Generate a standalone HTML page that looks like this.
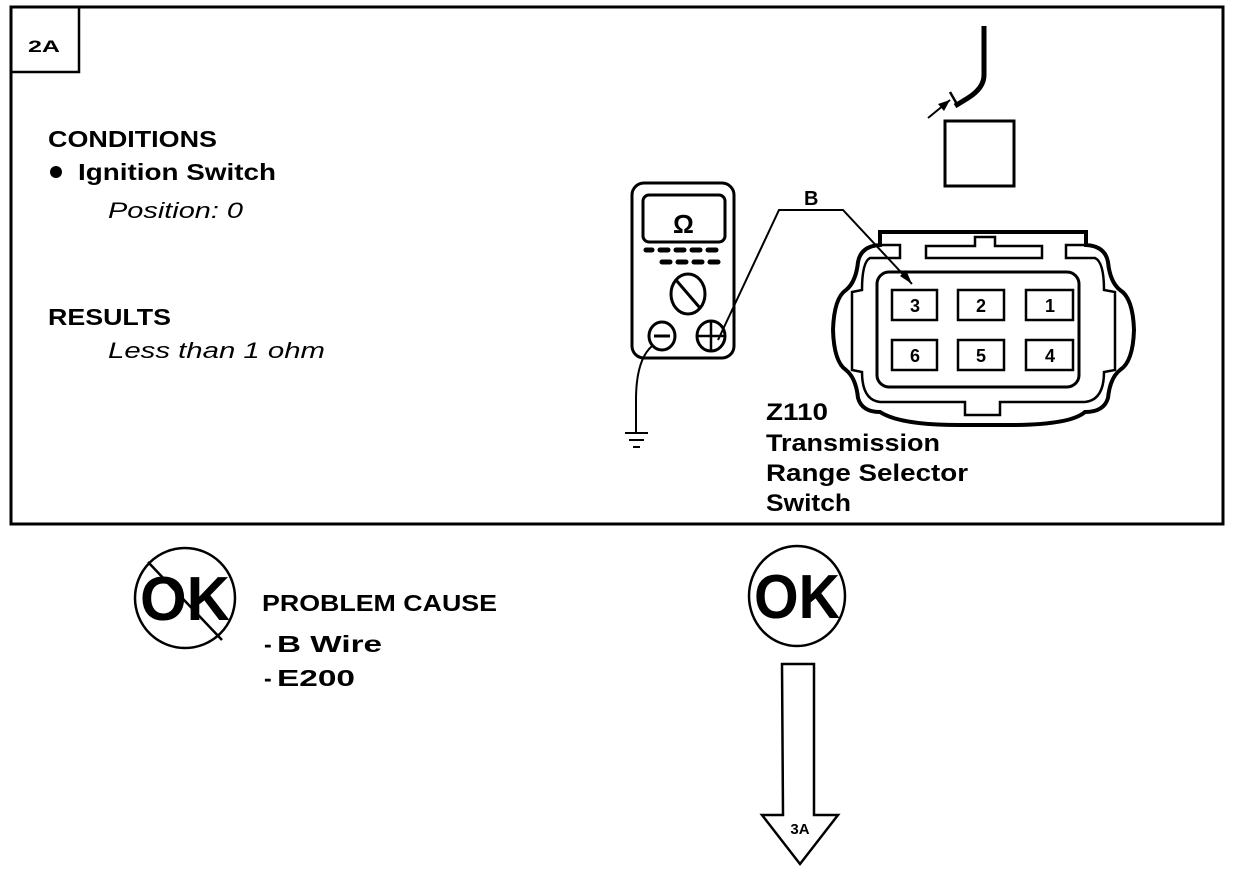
<!DOCTYPE html>
<html><head><meta charset="utf-8"><style>
html,body{margin:0;padding:0;background:#fff;width:1248px;height:874px;overflow:hidden}
svg{display:block}
text{font-family:"Liberation Sans",sans-serif;fill:#000}
.b{font-weight:bold}
.i{font-style:italic}
</style></head><body>
<svg width="1248" height="874" viewBox="0 0 1248 874" xmlns="http://www.w3.org/2000/svg">
<g fill="none" stroke="#000">
<rect x="11" y="7" width="1212" height="517" stroke-width="3"/>
<rect x="11" y="7" width="68" height="65" stroke-width="2.5"/>
<rect x="632" y="183" width="102" height="175" rx="12" stroke-width="3"/>
<rect x="643" y="195" width="82" height="47" rx="6" stroke-width="3"/>
<g stroke-width="5" stroke-linecap="round">
<line x1="646" y1="250" x2="652" y2="250"/><line x1="660" y1="250" x2="668" y2="250"/><line x1="676" y1="250" x2="684" y2="250"/><line x1="692" y1="250" x2="700" y2="250"/><line x1="708" y1="250" x2="716" y2="250"/>
<line x1="662" y1="262" x2="670" y2="262"/><line x1="678" y1="262" x2="686" y2="262"/><line x1="694" y1="262" x2="702" y2="262"/><line x1="710" y1="262" x2="718" y2="262"/>
</g>
<ellipse cx="688" cy="294" rx="17" ry="20" stroke-width="3"/>
<line x1="676" y1="280" x2="700" y2="308" stroke-width="3"/>
<ellipse cx="662" cy="336" rx="13" ry="14" stroke-width="3"/>
<line x1="654" y1="336" x2="670" y2="336" stroke-width="3"/>
<ellipse cx="711" cy="336" rx="14" ry="15" stroke-width="3"/>
<line x1="697" y1="336" x2="725" y2="336" stroke-width="2.5"/>
<line x1="711" y1="321" x2="711" y2="351" stroke-width="2.5"/>
<path d="M652,346 Q636,360 636,400 L636,432" stroke-width="2"/>
<line x1="625" y1="433" x2="648" y2="433" stroke-width="2"/>
<line x1="629" y1="440" x2="644" y2="440" stroke-width="2"/>
<line x1="633" y1="447" x2="640" y2="447" stroke-width="2"/>
<polyline points="718,340 779,210 843,210 912,284" stroke-width="2"/>
<rect x="945" y="121" width="69" height="65" stroke-width="3"/>
<path d="M984,26 L984,75 Q984,88 968,98 L955,106" stroke-width="5"/>
<line x1="928" y1="118" x2="950" y2="100" stroke-width="2"/>
<line x1="950" y1="92" x2="958" y2="106" stroke-width="2.5"/>
<path d="M880,245 L880,232 L1086,232 L1086,245 Q1105,246 1108,262 Q1110,282 1120,290 Q1133,298 1134,330 Q1133,362 1120,370 Q1110,378 1108,398 Q1104,412 1085,412 Q1070,425 1010,425 L960,425 Q900,425 880,412 Q862,412 858,398 Q856,378 846,370 Q834,362 833,330 Q834,298 846,290 Q856,282 858,262 Q861,246 880,245 Z" stroke-width="4"/>
<path d="M880,245 L900,245 L900,258 L870,258 Q862,262 862,290 L852,292 L852,370 L862,372 Q862,400 880,402 L965,402 L965,415 L1000,415 L1000,402 L1085,402 Q1104,400 1104,372 L1115,370 L1115,292 L1104,290 Q1104,262 1095,258 L1066,258 L1066,245 L1086,245" stroke-width="2.5"/>
<path d="M926,258 L926,246 L975,246 L975,237 L995,237 L995,246 L1042,246 L1042,258 Z" stroke-width="2.5"/>
<rect x="877" y="272" width="202" height="115" rx="12" stroke-width="3"/>
<g stroke-width="2.5">
<rect x="892" y="290" width="45" height="30"/><rect x="958" y="290" width="46" height="30"/><rect x="1026" y="290" width="47" height="30"/>
<rect x="892" y="340" width="45" height="30"/><rect x="958" y="340" width="46" height="30"/><rect x="1026" y="340" width="47" height="30"/>
</g>
<circle cx="185" cy="598" r="50" stroke-width="2.5"/>
<line x1="148" y1="562" x2="222" y2="640" stroke-width="2.5"/>
<ellipse cx="797" cy="596" rx="48" ry="50" stroke-width="2.5"/>
<path d="M782,664 L814,664 L814,815 L838,815 L800,864 L762,815 L783,815 Z" stroke-width="2.5"/>
</g>
<polygon points="912,284 900,276 906,270" fill="#000"/>
<polygon points="950,100 938,104 944,111" fill="#000"/>
<circle cx="56" cy="172" r="6" fill="#000"/>
<text x="28" y="52" class="b" font-size="17" textLength="32" lengthAdjust="spacingAndGlyphs">2A</text>
<text x="48" y="147" class="b" font-size="23" textLength="169" lengthAdjust="spacingAndGlyphs">CONDITIONS</text>
<text x="78" y="180" class="b" font-size="23" textLength="198" lengthAdjust="spacingAndGlyphs">Ignition Switch</text>
<text x="108" y="218" class="i" font-size="22" textLength="135" lengthAdjust="spacingAndGlyphs">Position: 0</text>
<text x="48" y="325" class="b" font-size="23" textLength="123" lengthAdjust="spacingAndGlyphs">RESULTS</text>
<text x="108" y="358" class="i" font-size="22" textLength="217" lengthAdjust="spacingAndGlyphs">Less than 1 ohm</text>
<text x="673" y="233" class="b" font-size="26">Ω</text>
<text x="804" y="205" class="b" font-size="20">B</text>
<g class="b" font-size="18" text-anchor="middle">
<text x="915" y="312">3</text><text x="981" y="312">2</text><text x="1050" y="312">1</text>
<text x="915" y="362">6</text><text x="981" y="362">5</text><text x="1050" y="362">4</text>
</g>
<g class="b" font-size="24">
<text x="766" y="420" textLength="62" lengthAdjust="spacingAndGlyphs">Z110</text>
<text x="766" y="451" textLength="174" lengthAdjust="spacingAndGlyphs">Transmission</text>
<text x="766" y="481" textLength="202" lengthAdjust="spacingAndGlyphs">Range Selector</text>
<text x="766" y="511" textLength="85" lengthAdjust="spacingAndGlyphs">Switch</text>
</g>
<text x="140" y="620" class="b" font-size="62" textLength="90" lengthAdjust="spacingAndGlyphs">OK</text>
<text x="754" y="618" class="b" font-size="62" textLength="86" lengthAdjust="spacingAndGlyphs">OK</text>
<text x="262" y="611" class="b" font-size="23" textLength="235" lengthAdjust="spacingAndGlyphs">PROBLEM CAUSE</text>
<text x="264" y="652" class="b" font-size="23">-</text>
<text x="277" y="652" class="b" font-size="23" textLength="105" lengthAdjust="spacingAndGlyphs">B Wire</text>
<text x="264" y="686" class="b" font-size="23">-</text>
<text x="277" y="686" class="b" font-size="23" textLength="78" lengthAdjust="spacingAndGlyphs">E200</text>
<text x="800" y="834" class="b" font-size="15" text-anchor="middle">3A</text>
</svg>
</body></html>
